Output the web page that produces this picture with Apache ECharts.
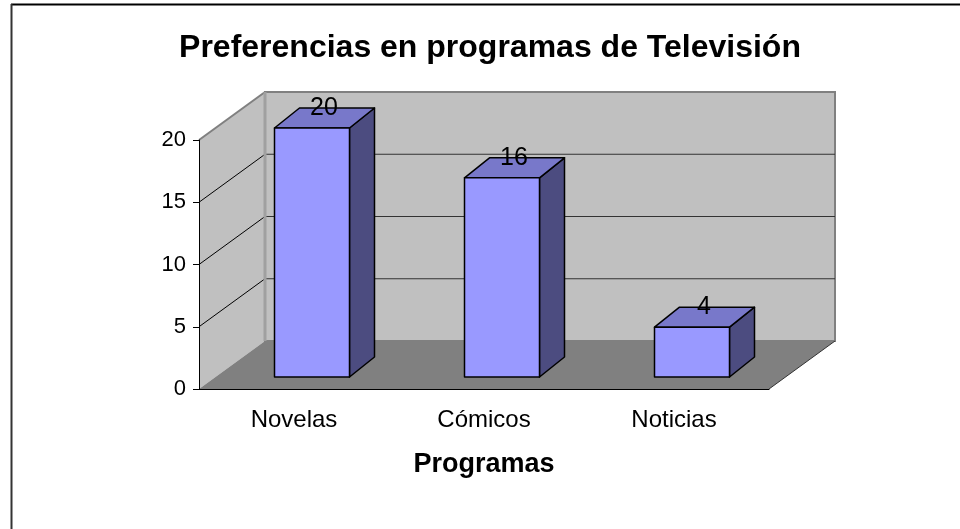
<!DOCTYPE html>
<html>
<head>
<meta charset="utf-8">
<title>Preferencias en programas de Televisión</title>
<script src="https://cdn.jsdelivr.net/npm/echarts@6.0.0/dist/echarts.min.js"></script>
<style>
  html, body { margin: 0; padding: 0; background: #fff; }
  #grafico { width: 960px; height: 529px; }
</style>
</head>
<body>
<div id="grafico"></div>
<script>
// datos del grafico
var categorias = ['Novelas', 'Cómicos', 'Noticias'];
var valores = [20, 16, 4];
var marcasY = [0, 5, 10, 15, 20];

var yMax = 20;
// profundidad de las paredes y de las barras (pixeles)
var DX = 66, DY = -48;
var BX = 18, BY = 12;
var BDX = 25, BDY = -20;
var BW = 75;
var fuente = 'Liberation Sans, Arial, sans-serif';

var chart = echarts.init(document.getElementById('grafico'));

// paredes y piso
function dibujarParedes(params, api) {
    var bw = api.size([1, 0])[0];
    var x0 = api.coord([0, 0])[0] - bw / 2;
    var x1 = api.coord([categorias.length - 1, 0])[0] + bw / 2;
    var y0 = api.coord([0, 0])[1];
    var yT = api.coord([0, yMax])[1];
    var hijos = [];
    hijos.push({
        type: 'polygon',
        shape: { points: [[x0, yT], [x0 + DX, yT + DY], [x0 + DX, y0 + DY], [x0, y0]] },
        style: { fill: '#C0C0C0' }
    });
    hijos.push({
        type: 'rect',
        shape: { x: x0 + DX, y: yT + DY, width: x1 - x0, height: y0 - yT },
        style: { fill: '#C0C0C0', stroke: '#808080', lineWidth: 2 }
    });
    hijos.push({
        type: 'polygon',
        shape: { points: [[x0, y0], [x1, y0], [x1 + DX, y0 + DY], [x0 + DX, y0 + DY]] },
        style: { fill: '#808080' }
    });
    // lineas de division
    marcasY.forEach(function (m) {
        if (m === 0 || m === yMax) return;
        var y = api.coord([0, m])[1];
        hijos.push({
            type: 'line',
            shape: { x1: x0, y1: y, x2: x0 + DX, y2: y + DY },
            style: { stroke: '#000', lineWidth: 1 }
        });
        hijos.push({
            type: 'line',
            shape: { x1: x0 + DX, y1: y + DY, x2: x1 + DX, y2: y + DY },
            style: { stroke: '#333', lineWidth: 1 }
        });
    });
    // bordes grises
    hijos.push({
        type: 'line',
        shape: { x1: x0, y1: yT, x2: x0 + DX, y2: yT + DY },
        style: { stroke: '#808080', lineWidth: 2 }
    });
    hijos.push({
        type: 'line',
        shape: { x1: x0 + DX, y1: yT + DY, x2: x0 + DX, y2: y0 + DY },
        style: { stroke: '#A0A0A0', lineWidth: 3 }
    });
    hijos.push({
        type: 'line',
        shape: { x1: x1, y1: y0, x2: x1 + DX, y2: y0 + DY },
        style: { stroke: '#333', lineWidth: 1 }
    });
    return { type: 'group', children: hijos };
}

// barras 3D
function dibujarBarra(params, api) {
    var i = api.value(0), v = api.value(1);
    var c = api.coord([i, v]);
    var b = api.coord([i, 0]);
    var xl = c[0] - BW / 2 + BX, xr = xl + BW;
    var yt = c[1] - BY, yb = b[1] - BY;
    var borde = { stroke: '#000', lineWidth: 1.5, lineJoin: 'round' };
    return {
        type: 'group',
        children: [
            {
                type: 'polygon',
                shape: { points: [[xr, yt], [xr + BDX, yt + BDY], [xr + BDX, yb + BDY], [xr, yb]] },
                style: Object.assign({ fill: '#4C4C80' }, borde)
            },
            {
                type: 'polygon',
                shape: { points: [[xl, yt], [xl + BDX, yt + BDY], [xr + BDX, yt + BDY], [xr, yt]] },
                style: Object.assign({ fill: '#7878CA' }, borde)
            },
            {
                type: 'rect',
                shape: { x: xl, y: yt, width: BW, height: yb - yt },
                style: Object.assign({ fill: '#9999FF' }, borde)
            },
            {
                type: 'text',
                style: {
                    x: xl + BW / 2 + 12, y: yt + BDY,
                    text: String(v),
                    fill: '#000',
                    font: '25px ' + fuente,
                    align: 'center', verticalAlign: 'middle'
                }
            }
        ]
    };
}

chart.setOption({
    animation: false,
    backgroundColor: '#fff',
    title: {
        text: 'Preferencias en programas de Televisión',
        left: 485, top: 27,
        textAlign: 'center',
        textStyle: { fontFamily: fuente, fontSize: 32, fontWeight: 'bold', color: '#000' }
    },
    graphic: [
        { type: 'line', shape: { x1: 11, y1: 4.5, x2: 960, y2: 4.5 }, style: { stroke: '#000', lineWidth: 2 } },
        { type: 'line', shape: { x1: 11.5, y1: 4, x2: 11.5, y2: 529 }, style: { stroke: '#333', lineWidth: 2 } }
    ],
    grid: { left: 199, right: 191, top: 140, bottom: 140 },
    xAxis: {
        type: 'category',
        data: categorias,
        name: 'Programas',
        nameLocation: 'middle',
        nameGap: 62,
        nameTextStyle: { fontFamily: fuente, fontSize: 27, fontWeight: 'bold', color: '#000' },
        axisLine: { lineStyle: { color: '#000', width: 1 } },
        axisTick: { length: 6, lineStyle: { color: '#000' } },
        axisLabel: { fontFamily: fuente, fontSize: 24, color: '#000', margin: 19 },
        z: 10
    },
    yAxis: {
        type: 'value',
        min: 0, max: yMax, interval: 5,
        axisLine: { show: true, lineStyle: { color: '#000', width: 1 } },
        axisTick: { show: true, length: 6, lineStyle: { color: '#000' } },
        axisLabel: { fontFamily: fuente, fontSize: 22, color: '#000', margin: 13 },
        splitLine: { show: false },
        z: 10
    },
    series: [
        {
            type: 'custom',
            renderItem: dibujarParedes,
            data: [[0, 0]],
            silent: true,
            z: 1
        },
        {
            type: 'custom',
            renderItem: dibujarBarra,
            data: valores.map(function (v, i) { return [i, v]; }),
            z: 2
        }
    ]
});
</script>
</body>
</html>
